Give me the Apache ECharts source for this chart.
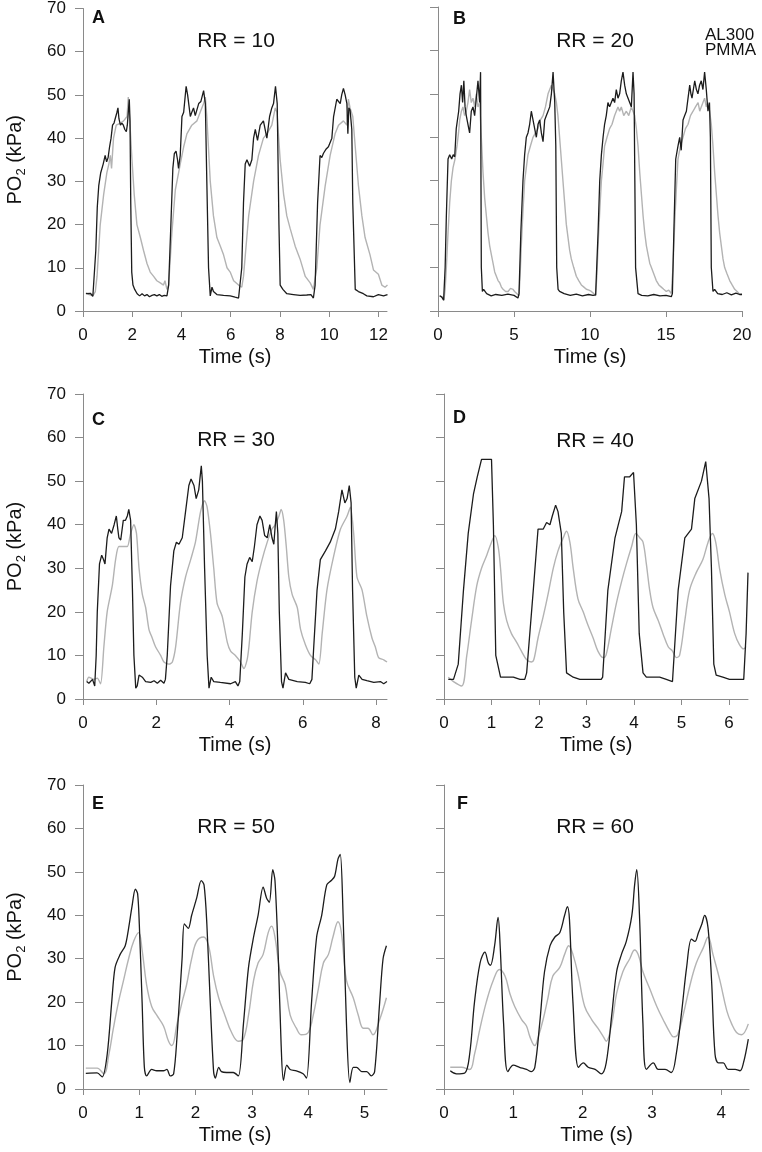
<!DOCTYPE html>
<html>
<head>
<meta charset="utf-8">
<script src="https://cdn.jsdelivr.net/npm/echarts@6/dist/echarts.min.js"></script>
<style>
  html, body { margin: 0; padding: 0; background: #fff; }
  #chart { width: 762px; height: 1152px; }
</style>
</head>
<body>
<div id="chart"></div>
<script>
// ---------------- DATA ----------------
const panelLetters = ['A', 'B', 'C', 'D', 'E', 'F'];
const rrLabels = ['RR = 10', 'RR = 20', 'RR = 30', 'RR = 40', 'RR = 50', 'RR = 60'];
const legendLines = ['AL300', 'PMMA'];
const yTicks = [0, 10, 20, 30, 40, 50, 60, 70];
const xTicksA = [0, 2, 4, 6, 8, 10, 12];
const xTicksB = [0, 5, 10, 15, 20];
const xTicksC = [0, 2, 4, 6, 8];
const xTicksD = [0, 1, 2, 3, 4, 5, 6];
const xTicksE = [0, 1, 2, 3, 4, 5];
const xTicksF = [0, 1, 2, 3, 4];
const xMaxes = [12.35, 20, 8.3, 6.4, 5.4, 4.4];

// Panel A (RR = 10)
const A_black = [[0.12,4.0],[0.2,3.7],[0.3,4.1],[0.4,3.4],[0.46,3.6],[0.52,14],[0.58,24],[0.64,29],[0.72,32],[0.82,34],[0.9,36],[0.96,34.5],[1.02,35.5],[1.08,38],[1.14,40],[1.2,43],[1.26,43.5],[1.32,43.2],[1.38,46],[1.42,47],[1.46,44.5],[1.52,43],[1.58,43.5],[1.64,43],[1.7,42],[1.76,41.5],[1.8,43],[1.84,46],[1.88,49],[1.91,44],[1.94,25],[1.98,9],[2.03,6],[2.1,5],[2.2,4],[2.3,3.5],[2.4,4],[2.5,3.5],[2.6,3.8],[2.7,3.3],[2.8,3.6],[2.9,3.8],[3.0,3.5],[3.1,3.8],[3.2,3.4],[3.3,3.6],[3.41,3.5],[3.48,6],[3.57,20],[3.65,33],[3.71,36.4],[3.78,37],[3.84,35],[3.88,33],[3.95,36],[4.02,45],[4.09,46],[4.19,52],[4.25,50],[4.36,45],[4.42,46],[4.49,47],[4.56,45.2],[4.7,48],[4.79,48.5],[4.9,51],[4.97,48],[5.03,30],[5.1,10],[5.17,3.5],[5.24,5.5],[5.3,4.5],[5.44,3.8],[5.71,3.6],[5.98,3.5],[6.18,3.2],[6.32,3.0],[6.39,3.3],[6.45,10],[6.52,25],[6.59,34],[6.66,35],[6.77,33.5],[6.86,35],[6.93,40],[7.0,42],[7.09,39.5],[7.2,43],[7.33,44],[7.47,40],[7.58,45],[7.67,47],[7.74,48],[7.82,52],[7.89,48],[7.96,20],[8.01,6],[8.12,5],[8.28,4],[8.55,3.8],[8.82,3.6],[9.09,3.7],[9.26,3.8],[9.36,3.0],[9.43,6],[9.53,25],[9.63,36],[9.7,35.5],[9.77,36.5],[9.88,37.5],[9.97,38],[10.11,40],[10.18,45],[10.31,49],[10.45,48],[10.51,50],[10.58,51.5],[10.65,50],[10.72,48],[10.76,41],[10.8,47],[10.85,46.5],[10.92,42],[10.96,25],[11.06,5],[11.19,4.5],[11.39,4],[11.53,3.5],[11.8,3.3],[12.0,3.8],[12.21,3.5],[12.37,3.8]];
const A_grey = [[0.12,4.2],[0.25,3.8],[0.4,3.5],[0.5,4.5],[0.57,8],[0.7,20],[0.84,27],[0.97,32],[1.05,34],[1.11,36],[1.16,33],[1.24,40],[1.35,43],[1.52,43.5],[1.65,44],[1.79,45],[1.84,49.5],[1.9,44],[1.99,35],[2.08,27],[2.19,20],[2.33,17],[2.46,14],[2.6,11],[2.73,9],[2.87,8],[3.0,7],[3.14,6.5],[3.27,6],[3.33,7],[3.41,5],[3.48,6],[3.61,18],[3.75,28],[3.95,34],[4.09,38],[4.22,41],[4.42,43],[4.63,44],[4.76,46],[4.9,48],[4.97,49.5],[5.03,45],[5.17,30],[5.3,22],[5.44,17],[5.58,15],[5.71,13],[5.85,10],[5.98,9],[6.12,7],[6.32,6],[6.45,5.5],[6.52,8],[6.73,22],[6.93,30],[7.13,36],[7.33,40],[7.47,41],[7.67,43],[7.81,47],[7.88,46],[8.01,35],[8.15,27],[8.28,22],[8.42,19],[8.62,15],[8.82,12],[9.03,8],[9.23,6.5],[9.36,5],[9.5,10],[9.63,20],[9.84,29],[10.04,36],[10.24,41],[10.38,43],[10.58,44],[10.72,43],[10.78,49],[10.85,47],[10.96,45],[11.06,38],[11.19,29],[11.33,22],[11.46,17],[11.66,13],[11.8,9.5],[12.0,8.5],[12.14,6],[12.27,5.5],[12.37,6]];

// Panel B (RR = 20)
const B_black = [[0.11,3.5],[0.25,3.2],[0.37,2.5],[0.47,10],[0.55,22],[0.66,35],[0.77,36],[0.9,35],[1.0,36],[1.1,35.5],[1.2,42],[1.36,46],[1.45,50],[1.54,52],[1.62,48],[1.7,53],[1.78,47],[1.86,45],[1.97,43],[2.08,41],[2.19,46],[2.3,47],[2.41,45],[2.52,49],[2.63,53],[2.74,48],[2.8,55],[2.85,10],[2.92,4.5],[3.0,5],[3.2,4],[3.5,3.5],[3.8,3.8],[4.2,3.6],[4.6,3.9],[5.0,3.6],[5.26,3.0],[5.33,4],[5.45,18],[5.59,30],[5.7,36],[5.81,40],[5.92,41],[6.03,43],[6.14,46],[6.25,44],[6.36,42],[6.47,40],[6.58,43],[6.69,44],[6.8,41],[6.91,39],[7.02,44],[7.13,45],[7.24,46],[7.35,47],[7.46,50],[7.57,55],[7.68,48],[7.75,38],[7.81,10],[7.9,5],[8.0,4.5],[8.3,4],[8.7,3.6],[9.1,3.9],[9.5,3.5],[9.9,3.8],[10.2,3.6],[10.37,3.7],[10.42,4],[10.53,18],[10.64,30],[10.75,36],[10.86,40],[10.96,43],[11.07,45],[11.18,48],[11.29,47],[11.4,48],[11.51,49],[11.62,48],[11.73,51],[11.84,49],[11.95,50],[12.06,53],[12.17,55],[12.28,52],[12.39,50],[12.5,50],[12.61,48],[12.72,47],[12.83,55],[12.9,50],[12.95,30],[13.0,10],[13.16,4],[13.4,3.6],[13.8,3.5],[14.2,3.8],[14.6,3.5],[15.0,3.6],[15.35,3.3],[15.42,4],[15.53,20],[15.64,35],[15.79,38],[15.9,40],[16.0,37],[16.12,44],[16.23,45],[16.34,46],[16.45,49],[16.56,52],[16.64,50],[16.71,49],[16.8,51],[16.89,53],[17.0,51],[17.1,50],[17.21,52],[17.32,53],[17.43,51],[17.54,55],[17.65,51],[17.76,46],[17.86,48],[17.92,40],[17.98,10],[18.09,4.5],[18.2,5],[18.4,4],[18.7,3.8],[19.0,4.2],[19.3,3.7],[19.6,4.1],[19.85,3.8],[20.0,3.8]];
const B_grey = [[0.11,3.5],[0.25,3.3],[0.39,2.5],[0.47,5],[0.55,10],[0.66,18],[0.77,25],[0.88,30],[0.99,33],[1.12,35],[1.25,38],[1.35,41],[1.43,44],[1.54,46],[1.64,47],[1.75,45],[1.86,46],[1.97,48],[2.08,51],[2.19,48],[2.3,49],[2.41,47],[2.52,50],[2.63,47],[2.74,48],[2.85,40],[2.96,32],[3.07,26],[3.18,22],[3.29,18],[3.4,15],[3.51,13],[3.62,11],[3.73,9],[3.84,8],[3.95,7],[4.06,6.5],[4.17,5.5],[4.28,5],[4.45,4.5],[4.61,4.5],[4.77,5.2],[4.93,5],[5.04,4.5],[5.15,4.2],[5.33,3.5],[5.4,8],[5.48,15],[5.59,23],[5.7,30],[5.81,33],[5.92,36],[6.08,38],[6.25,40],[6.41,41],[6.58,42],[6.74,44],[6.91,45],[7.07,47],[7.24,50],[7.35,51],[7.46,52],[7.57,51],[7.68,50],[7.79,48],[7.89,45],[8.0,40],[8.11,35],[8.22,30],[8.33,25],[8.44,20],[8.55,17],[8.66,14],[8.77,12],[8.93,10],[9.1,8],[9.26,7],[9.43,6],[9.6,5.5],[9.76,5],[9.93,4.8],[10.09,4.5],[10.25,4],[10.37,3.5],[10.45,8],[10.53,15],[10.64,23],[10.75,30],[10.86,34],[10.96,38],[11.12,40],[11.29,42],[11.45,43],[11.62,45],[11.73,46],[11.84,47],[11.95,46],[12.06,47],[12.22,45],[12.39,46],[12.55,45],[12.72,47],[12.83,46],[12.94,45],[13.05,42],[13.16,38],[13.27,32],[13.38,27],[13.49,22],[13.6,18],[13.71,15],[13.82,13],[13.93,11],[14.04,10],[14.2,8.5],[14.36,7],[14.53,6],[14.69,5.5],[14.85,5],[15.02,4.5],[15.18,4.8],[15.35,4],[15.46,10],[15.57,20],[15.68,28],[15.79,35],[15.95,38],[16.12,40],[16.28,42],[16.45,43],[16.61,45],[16.78,46],[16.94,47],[17.11,48],[17.22,46],[17.32,47],[17.43,48],[17.54,49],[17.65,47],[17.76,48],[17.87,46],[17.98,43],[18.09,38],[18.2,32],[18.31,27],[18.42,22],[18.53,18],[18.64,15],[18.75,12],[18.86,10],[19.02,8.5],[19.19,7],[19.35,6],[19.52,5],[19.68,4.5],[19.85,3.8],[20.0,4]];

// Panel C (RR = 30)
const C_black = [[0.1,4],[0.16,3.6],[0.21,3.5],[0.26,4.5],[0.32,3],[0.36,10],[0.39,20],[0.45,31],[0.51,33],[0.56,32],[0.6,31],[0.66,37],[0.71,39],[0.78,38],[0.85,40],[0.91,42],[0.95,39],[0.98,37],[1.03,36.5],[1.1,41],[1.16,41],[1.21,42],[1.25,43.5],[1.3,41],[1.35,25],[1.39,10],[1.44,2.5],[1.48,3],[1.53,5.5],[1.62,5],[1.71,4],[1.85,3.8],[1.94,4.2],[2.03,3.6],[2.12,4.3],[2.21,3.6],[2.25,4.5],[2.3,10],[2.39,26],[2.48,34],[2.55,36],[2.62,35.5],[2.71,37],[2.8,43],[2.89,49],[2.95,50.5],[3.03,49],[3.09,46],[3.16,48],[3.23,53.5],[3.26,50],[3.32,30],[3.39,10],[3.44,2.5],[3.5,5],[3.57,4],[3.75,3.8],[4.03,3.5],[4.16,4],[4.23,3],[4.28,4],[4.35,15],[4.42,28],[4.48,31],[4.55,32.5],[4.62,31.5],[4.68,35],[4.75,40],[4.83,42],[4.89,41],[4.96,37.5],[5.03,37],[5.1,40],[5.16,37],[5.21,35.5],[5.25,40],[5.28,43],[5.32,38],[5.36,20],[5.42,4],[5.46,2.5],[5.53,6],[5.62,4.5],[5.85,4],[6.07,3.8],[6.19,3.5],[6.25,4.5],[6.3,12],[6.39,25],[6.48,32],[6.62,34],[6.75,36],[6.89,39],[6.98,43],[7.07,48],[7.15,45],[7.21,46],[7.27,49],[7.32,45],[7.36,25],[7.42,5],[7.46,2.5],[7.53,5.5],[7.62,4.5],[7.75,4.2],[7.94,3.8],[8.12,4],[8.21,3.5],[8.3,4]];
const C_grey = [[0.1,4],[0.16,5],[0.3,4.5],[0.39,4.8],[0.48,3.5],[0.57,12],[0.66,20],[0.8,26],[0.89,32],[0.98,35],[1.12,35],[1.21,35],[1.3,38],[1.39,40],[1.46,38],[1.53,30],[1.62,24],[1.71,21],[1.8,16],[1.89,14],[1.98,12],[2.12,10],[2.21,8.5],[2.35,8],[2.44,8.5],[2.53,12],[2.66,22],[2.8,28],[2.94,32],[3.07,36],[3.21,43],[3.32,45.5],[3.39,44],[3.48,38],[3.57,30],[3.66,22],[3.8,19],[3.94,13],[4.03,11],[4.16,10],[4.3,8.5],[4.39,7],[4.48,9],[4.53,12],[4.62,20],[4.75,27],[4.89,32],[5.03,36],[5.16,39],[5.25,40],[5.35,42],[5.41,43.5],[5.48,41],[5.55,35],[5.62,28],[5.71,24],[5.85,21],[5.94,16],[6.07,12.5],[6.21,10],[6.35,9],[6.44,8],[6.53,15],[6.66,25],[6.85,33],[7.03,39],[7.21,42],[7.3,44],[7.39,38],[7.48,28],[7.62,25],[7.75,19],[7.89,14],[7.98,12],[8.07,9.5],[8.21,9],[8.3,8.5]];

// Panel D (RR = 40)
const D_black = [[0.09,4.5],[0.2,4.5],[0.3,8],[0.41,25],[0.51,38],[0.62,47],[0.7,51],[0.79,55],[1.0,55],[1.04,40],[1.09,10],[1.19,5],[1.32,5],[1.46,5],[1.6,4.5],[1.7,4.5],[1.74,6],[1.88,25],[1.98,39],[2.09,39],[2.16,40.5],[2.23,40],[2.28,42],[2.35,44.5],[2.4,43],[2.47,38],[2.52,20],[2.58,6],[2.72,5],[2.86,4.5],[3.0,4.5],[3.14,4.5],[3.31,4.5],[3.34,5],[3.45,25],[3.6,37],[3.67,40],[3.74,43],[3.8,51],[3.91,51],[3.99,52],[4.05,40],[4.11,15],[4.19,6],[4.26,5],[4.4,5],[4.54,5],[4.68,4.5],[4.81,4],[4.93,25],[5.07,37],[5.21,39],[5.28,46],[5.42,50],[5.51,54.5],[5.58,46],[5.63,30],[5.68,8],[5.73,5.5],[5.87,5],[6.01,4.5],[6.15,4.5],[6.26,4.5],[6.31,4.5],[6.36,15],[6.4,29]];
const D_grey = [[0.09,5],[0.2,4],[0.37,3],[0.48,10],[0.58,18],[0.69,26],[0.79,30],[0.9,33],[1.0,36],[1.07,37.5],[1.14,35],[1.19,30],[1.25,22],[1.32,18],[1.42,15],[1.53,13],[1.63,11],[1.74,9],[1.84,8.5],[1.89,9],[1.98,14],[2.09,19],[2.19,24],[2.3,30],[2.4,34],[2.51,37],[2.58,38.5],[2.65,36],[2.72,30],[2.82,23],[2.93,20],[3.03,17],[3.14,14],[3.24,11],[3.35,9.5],[3.41,10],[3.52,16],[3.63,22],[3.74,27],[3.84,31],[3.95,35],[4.04,38],[4.12,37],[4.19,36],[4.26,31],[4.33,25],[4.4,21],[4.51,18],[4.61,15],[4.72,12],[4.81,11],[4.89,9.5],[4.96,10],[5.07,18],[5.17,25],[5.31,29],[5.45,32],[5.56,36],[5.65,38],[5.72,36],[5.8,30],[5.91,24],[6.01,20],[6.12,15],[6.22,12.5],[6.31,11.5],[6.36,12]];

// Panel E (RR = 50)
const E_black = [[0.05,3.6],[0.25,3.7],[0.34,2.8],[0.43,8],[0.51,20],[0.57,28],[0.66,31],[0.75,33],[0.81,37],[0.87,42],[0.93,46],[0.97,45],[1.0,38],[1.05,20],[1.09,5],[1.13,3],[1.22,4.5],[1.31,4.2],[1.43,4.2],[1.49,4.5],[1.55,3],[1.61,3.5],[1.67,12],[1.76,30],[1.8,38],[1.87,37],[1.93,40],[2.02,44],[2.1,48],[2.15,47],[2.2,38],[2.26,20],[2.32,4],[2.35,2.5],[2.41,5],[2.46,4],[2.55,3.8],[2.67,3.8],[2.76,3],[2.85,15],[2.94,28],[3.03,35],[3.11,40],[3.2,46.5],[3.26,44],[3.31,43],[3.37,50.5],[3.41,48],[3.47,30],[3.52,10],[3.56,2],[3.62,5.5],[3.68,4.5],[3.79,4.2],[3.91,3.5],[3.97,2.5],[4.06,20],[4.15,35],[4.24,40],[4.33,47],[4.41,48],[4.47,49],[4.53,53],[4.57,54],[4.62,40],[4.68,15],[4.74,1.5],[4.8,5],[4.86,5],[4.95,4],[5.04,4],[5.12,3],[5.18,4],[5.27,20],[5.33,30],[5.39,33]];
const E_grey = [[0.05,4.8],[0.25,4.8],[0.37,3.5],[0.46,8],[0.54,14],[0.63,20],[0.72,25],[0.81,30],[0.9,34],[0.99,36],[1.05,32],[1.13,24],[1.22,19],[1.31,17],[1.43,14.5],[1.52,11],[1.58,10],[1.67,15],[1.76,20],[1.84,24],[1.93,30],[2.02,34],[2.14,35],[2.23,33],[2.32,26],[2.41,21],[2.52,17],[2.64,13],[2.76,11],[2.85,11.5],[2.94,17],[3.03,25],[3.11,29],[3.2,31],[3.29,36],[3.35,37.5],[3.41,35],[3.5,27],[3.59,24],[3.68,17],[3.79,14],[3.88,12.5],[4.0,13],[4.09,17],[4.18,23],[4.27,29],[4.36,31],[4.44,35],[4.53,38.5],[4.59,36],[4.68,25],[4.8,21],[4.89,17],[4.98,14],[5.06,14],[5.15,12.5],[5.27,16],[5.39,21]];

// Panel F (RR = 60)
const F_black = [[0.09,4.2],[0.18,3.5],[0.3,3.7],[0.37,8],[0.44,20],[0.52,29],[0.59,31.5],[0.64,29],[0.67,28.5],[0.73,33],[0.78,39.5],[0.81,33],[0.86,15],[0.92,4],[1.0,5.5],[1.09,5],[1.19,4.5],[1.26,4],[1.31,5],[1.38,15],[1.45,27],[1.53,33],[1.6,35],[1.67,36],[1.74,40],[1.78,42],[1.81,39],[1.86,20],[1.94,5],[2.01,6],[2.08,5],[2.18,4.5],[2.27,3.5],[2.34,6],[2.42,17],[2.49,27],[2.56,31],[2.63,34],[2.71,40],[2.75,47],[2.78,50.5],[2.82,40],[2.87,15],[2.92,4.5],[3.02,6],[3.09,4.5],[3.19,4.5],[3.28,3.8],[3.35,8],[3.43,18],[3.5,28],[3.57,34.5],[3.62,34],[3.67,36],[3.72,38],[3.76,40],[3.81,37],[3.86,25],[3.91,8],[3.96,6],[4.03,6],[4.1,4.5],[4.2,4.5],[4.27,4.2],[4.32,6],[4.39,11.5]];
const F_grey = [[0.09,5],[0.25,5],[0.37,4.5],[0.44,8],[0.52,14],[0.61,20],[0.71,25],[0.8,27.5],[0.88,26],[0.95,22],[1.02,19],[1.12,16],[1.19,14.5],[1.24,12],[1.31,10],[1.36,12],[1.43,16],[1.5,21],[1.57,26],[1.67,28],[1.74,31],[1.8,33],[1.86,31],[1.94,26],[2.03,19],[2.13,16],[2.22,14],[2.3,12],[2.34,11],[2.42,15],[2.49,22],[2.58,27],[2.68,30],[2.75,32],[2.8,31],[2.87,27],[2.97,23],[3.07,19],[3.16,16],[3.26,13],[3.31,12],[3.37,12.5],[3.45,17],[3.55,24],[3.64,29],[3.74,32.5],[3.81,35],[3.88,31],[3.98,25],[4.08,18],[4.15,15],[4.22,13],[4.29,12.5],[4.39,15]];

const blackSeries = [A_black, B_black, C_black, D_black, E_black, F_black];
const greySeries = [A_grey, B_grey, C_grey, D_grey, E_grey, F_grey];
const xTickSets = [xTicksA, xTicksB, xTicksC, xTicksD, xTicksE, xTicksF];

// ---------------- LAYOUT / STYLE ----------------
const FONT = "'Liberation Sans', Arial, Helvetica, sans-serif";
const AXIS_COLOR = '#8a8a8a';
const TEXT_COLOR = '#111';
const grids = [
  { left: 83, top: 7, width: 304, height: 304 },
  { left: 438, top: 7, width: 304, height: 304 },
  { left: 83, top: 394, width: 304, height: 305 },
  { left: 444, top: 394, width: 304, height: 305 },
  { left: 83, top: 785, width: 304, height: 304 },
  { left: 444, top: 785, width: 305, height: 304 }
];
const smoothGrey = [0, 0, 0.25, 0.35, 0.4, 0.4];
const smoothBlack = [0, 0, 0, 0, 0.3, 0.35];
const letterPos = [[92, 18.5], [453, 19], [92, 420], [453, 418.5], [92, 804], [457, 804]];
const rrPos = [[236, 41], [595, 41], [236, 440], [595, 441.5], [236, 827.5], [595, 827.5]];

const chart = echarts.init(document.getElementById('chart'), null, { renderer: 'canvas' });

const xAxes = [], yAxes = [], series = [], graphics = [];
grids.forEach((g, i) => {
  const leftCol = (i % 2 === 0);
  xAxes.push({
    type: 'value', gridIndex: i, min: 0, max: xMaxes[i],
    name: 'Time (s)', nameLocation: 'middle', nameGap: 36,
    nameTextStyle: { fontFamily: FONT, fontSize: 20, color: TEXT_COLOR },
    axisLine: { show: true, onZero: false, lineStyle: { color: AXIS_COLOR, width: 1 } },
    axisTick: { show: true, length: 6, customValues: xTickSets[i], lineStyle: { color: AXIS_COLOR, width: 1 } },
    axisLabel: { show: true, customValues: xTickSets[i], margin: 16, fontFamily: FONT, fontSize: 17, color: TEXT_COLOR },
    splitLine: { show: false }
  });
  yAxes.push({
    type: 'value', gridIndex: i, min: 0, max: 70,
    name: leftCol ? '{a|PO}{b|2}{a| (kPa)}' : '', nameLocation: 'middle', nameGap: 55, nameRotate: 90,
    nameTextStyle: {
      fontFamily: FONT, color: TEXT_COLOR,
      rich: {
        a: { fontFamily: FONT, fontSize: 20, color: TEXT_COLOR, lineHeight: 26 },
        b: { fontFamily: FONT, fontSize: 13, color: TEXT_COLOR, verticalAlign: 'bottom', lineHeight: 14 }
      }
    },
    axisLine: { show: true, lineStyle: { color: AXIS_COLOR, width: 1 } },
    axisTick: { show: true, length: 8, customValues: yTicks, lineStyle: { color: AXIS_COLOR, width: 1 } },
    axisLabel: { show: leftCol, customValues: yTicks, margin: 17, fontFamily: FONT, fontSize: 17, color: TEXT_COLOR },
    splitLine: { show: false }
  });
  series.push({
    type: 'line', xAxisIndex: i, yAxisIndex: i, data: greySeries[i],
    showSymbol: false, symbol: 'none', silent: true, animation: false,
    smooth: smoothGrey[i],
    lineStyle: { color: '#b3b3b3', width: 1.4 }
  });
  series.push({
    type: 'line', xAxisIndex: i, yAxisIndex: i, data: blackSeries[i],
    showSymbol: false, symbol: 'none', silent: true, animation: false,
    smooth: smoothBlack[i],
    lineStyle: { color: '#1c1c1c', width: 1.3 }
  });
  graphics.push({
    type: 'text', left: letterPos[i][0], top: letterPos[i][1] - 9,
    style: { text: panelLetters[i], font: 'bold 18px ' + FONT, fill: TEXT_COLOR }
  });
  graphics.push({
    type: 'text', x: rrPos[i][0], y: rrPos[i][1],
    style: { text: rrLabels[i], font: '21px ' + FONT, fill: TEXT_COLOR, align: 'center', verticalAlign: 'middle' }
  });
});
graphics.push({
  type: 'text', x: 705, y: 35,
  style: { text: legendLines[0], font: '17px ' + FONT, fill: TEXT_COLOR, align: 'left', verticalAlign: 'middle' }
});
graphics.push({
  type: 'text', x: 705, y: 50,
  style: { text: legendLines[1], font: '17px ' + FONT, fill: TEXT_COLOR, align: 'left', verticalAlign: 'middle' }
});

chart.setOption({
  backgroundColor: '#ffffff',
  animation: false,
  grid: grids.map(g => Object.assign({ containLabel: false }, g)),
  xAxis: xAxes,
  yAxis: yAxes,
  series: series,
  graphic: graphics
});
</script>
</body>
</html>
